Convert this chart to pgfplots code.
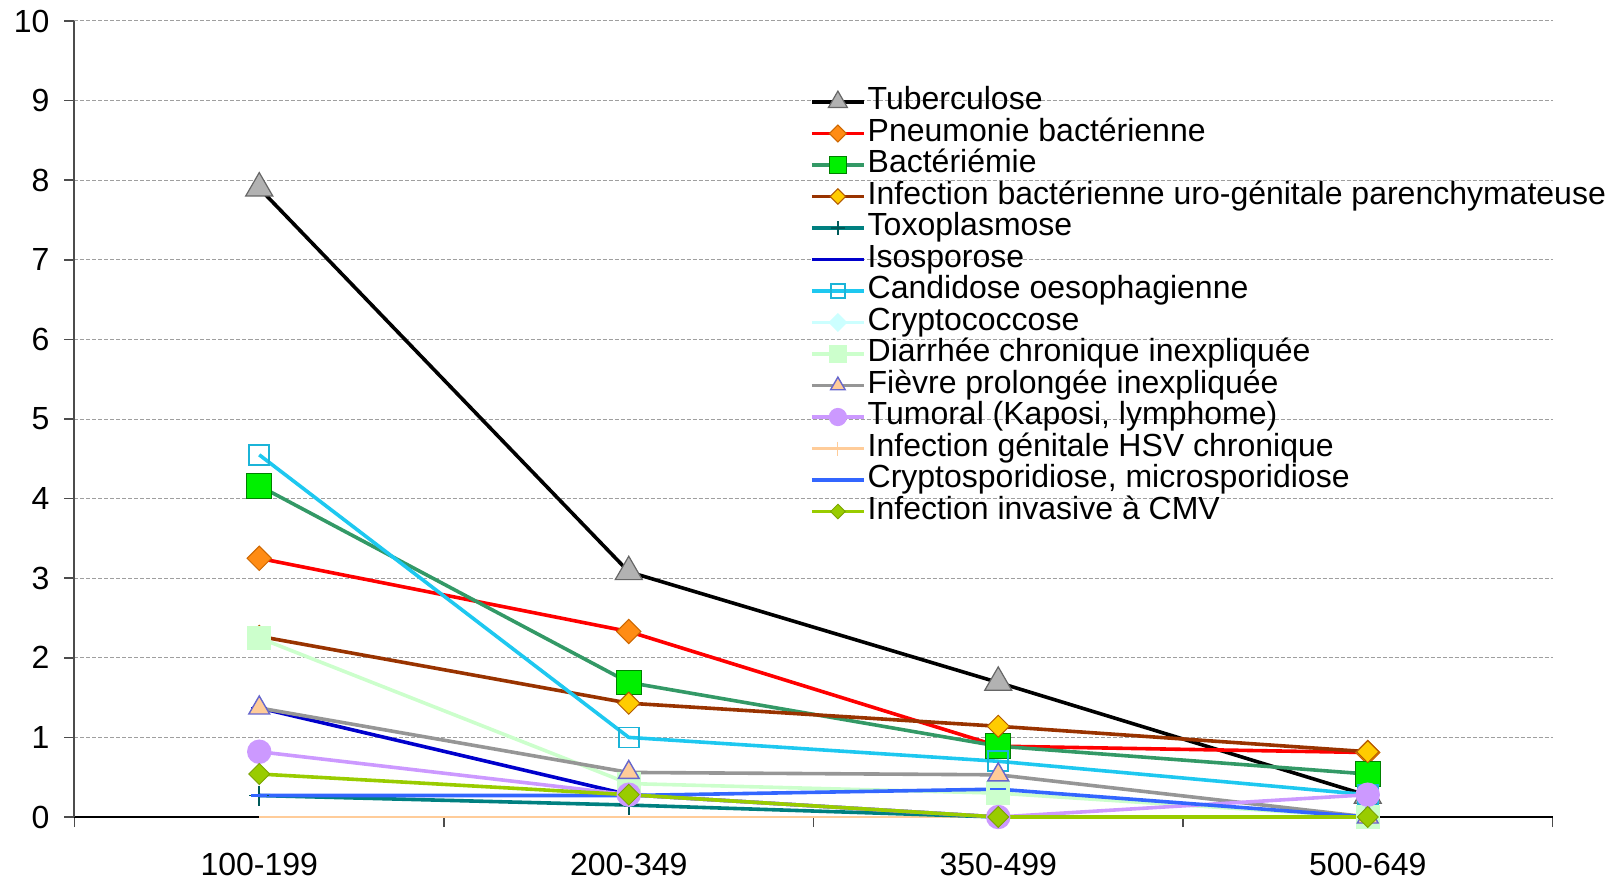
\documentclass[border=0pt]{standalone}
\usepackage{pgfplots}
\pgfplotsset{compat=1.18}
\usepackage{pgfplotstable}
\usepackage{fontspec}
\setmainfont{Liberation Sans}

\definecolor{tbfill}{RGB}{178,178,178}
\definecolor{pnline}{RGB}{255,0,0}
\definecolor{pnfill}{RGB}{255,140,20}
\definecolor{baline}{RGB}{51,153,102}
\definecolor{bafill}{RGB}{0,240,0}
\definecolor{uroline}{RGB}{153,51,0}
\definecolor{urofill}{RGB}{255,204,0}
\definecolor{toxo}{RGB}{0,128,128}
\definecolor{iso}{RGB}{0,0,204}
\definecolor{cand}{RGB}{30,200,240}
\definecolor{crypto}{RGB}{204,255,255}
\definecolor{diar}{RGB}{204,255,204}
\definecolor{fievline}{RGB}{150,150,150}
\definecolor{fievfill}{RGB}{255,204,153}
\definecolor{fievdraw}{RGB}{102,102,204}
\definecolor{tum}{RGB}{204,153,255}
\definecolor{hsv}{RGB}{255,204,153}
\definecolor{cspo}{RGB}{51,102,255}
\definecolor{cmv}{RGB}{153,204,0}

\pgfplotstableread{
x   tb   pn   ba   uro  toxo iso  cand cryp diar fiev tum  hsv  cspo cmv
0.5 7.90 3.25 4.16 2.27 0.27 1.37 4.55 0    2.25 1.37 0.82 0    0.27 0.54
1.5 3.08 2.33 1.69 1.43 0.15 0.28 1.00 0    0.42 0.56 0.28 0    0.27 0.28
2.5 1.69 0.89 0.89 1.14 0    0    0.70 0    0.30 0.53 0    0    0.35 0
3.5 0.27 0.81 0.54 0.82 0    0    0.28 0    0    0    0.28 0    0    0
}\data

\begin{document}
\begin{tikzpicture}
\begin{axis}[
  at={(37.25pt,31.5pt)}, anchor=south west,
  scale only axis, width=739pt, height=398pt,
  xmin=0, xmax=4, ymin=0, ymax=10,
  clip=false,
  axis x line*=bottom, axis y line*=left,
  x axis line style={black, line width=0.9pt, -},
  y axis line style={black!70, line width=1pt, -},
  tick align=outside,
  major tick length=5pt,
  tick style={black!70, line width=0.8pt},
  xtick={0,1,2,3,4}, xticklabels={},
  extra x ticks={0.5,1.5,2.5,3.5},
  extra x tick labels={100-199,200-349,350-499,500-649},
  extra x tick style={major tick length=0pt, grid=none},
  ytick={0,1,...,10},
  ymajorgrids=true,
  grid style={gray!75, line width=0.5pt, dash pattern=on 2pt off 1pt},
  /pgf/number format/assume math mode=true,
  ticklabel style={font=\fontsize{16}{16}\selectfont},
  xticklabel style={yshift=-14.5pt},
  yticklabel style={xshift=-4pt},
  every axis plot/.append style={line width=1.8pt},
  legend image code/.code={\draw[mark repeat=2,mark phase=2,#1,every mark/.append style={scale=0.7}] plot coordinates {(0pt,0pt) (13pt,0pt) (26pt,0pt)};},
  legend style={at={(rel axis cs:0.4977,0.918)}, anchor=north west,
    draw=none, fill=none, inner sep=0pt, outer sep=0pt,
    row sep=0pt, column sep=1pt,
    font=\fontsize{16}{16}\selectfont,
    nodes={inner sep=0pt, text height=11.8pt, text depth=3.95pt},
    cells={anchor=west}},
  legend cell align=left,
]
% series lying on the axis, drawn first (beneath everything)
\addplot[crypto, line width=1pt, forget plot] table[x=x,y=cryp] {\data};
\addplot[hsv, line width=1pt, forget plot] table[x=x,y=hsv] {\data};

\addplot[black, mark=triangle*, mark size=7.8pt, mark options={solid, fill=tbfill, draw=black!60, line width=0.6pt}] table[x=x,y=tb] {\data};
\addlegendentry{Tuberculose}
\addplot[pnline, mark=square*, mark size=4.3pt, mark options={solid, rotate=45, fill=pnfill, draw=orange!80!black, line width=0.5pt}] table[x=x,y=pn] {\data};
\addlegendentry{Pneumonie bactérienne}
\addplot[baline, mark=square*, mark size=6.2pt, mark options={solid, fill=bafill, draw=green!50!black, line width=0.5pt}] table[x=x,y=ba] {\data};
\addlegendentry{Bactériémie}
\addplot[uroline, mark=square*, mark size=3.9pt, mark options={solid, rotate=45, fill=urofill, draw=orange!70!black, line width=0.5pt}] table[x=x,y=uro] {\data};
\addlegendentry{Infection bactérienne uro-génitale parenchymateuse}
\addplot[toxo, mark=+, mark size=5pt, mark options={solid, line width=0.8pt, draw=toxo!70!black}] table[x=x,y=toxo] {\data};
\addlegendentry{Toxoplasmose}
\addplot[iso, mark=-, mark size=4pt, mark options={solid, line width=1.2pt}] table[x=x,y=iso] {\data};
\addlegendentry{Isosporose}
\addplot[cand, mark=square, mark size=5pt, mark options={solid, line width=0.8pt, draw=cand!90!black}] table[x=x,y=cand] {\data};
\addlegendentry{Candidose oesophagienne}
\addlegendimage{crypto, line width=1.8pt, mark=square*, mark size=3.5pt, mark options={solid, rotate=45, fill=crypto, draw=crypto}}
\addlegendentry{Cryptococcose}
\addplot[diar, mark=square*, mark size=5pt, mark options={solid, fill=diar, draw=diar}] table[x=x,y=diar] {\data};
\addlegendentry{Diarrhée chronique inexpliquée}
\addplot[fievline, mark=triangle*, mark size=6pt, mark options={solid, fill=fievfill, draw=fievdraw, line width=0.7pt}] table[x=x,y=fiev] {\data};
\addlegendentry{Fièvre prolongée inexpliquée}
\addplot[tum, mark=*, mark size=5.2pt, mark options={solid, fill=tum, draw=tum}] table[x=x,y=tum] {\data};
\addlegendentry{Tumoral (Kaposi, lymphome)}
\addlegendimage{hsv, line width=1.8pt, mark=+, mark size=5pt, mark options={solid, line width=0.6pt}}
\addlegendentry{Infection génitale HSV chronique}
\addplot[cspo, mark=-, mark size=4pt, mark options={solid, line width=1.2pt}] table[x=x,y=cspo] {\data};
\addlegendentry{Cryptosporidiose, microsporidiose}
\addplot[cmv, mark=square*, mark size=3.7pt, mark options={solid, rotate=45, fill=cmv, draw=cmv!80!black, line width=0.4pt}] table[x=x,y=cmv] {\data};
\addlegendentry{Infection invasive à CMV}
\end{axis}
\pgfresetboundingbox
\useasboundingbox (0,0) rectangle (811.5pt,440pt);
\end{tikzpicture}
\end{document}
